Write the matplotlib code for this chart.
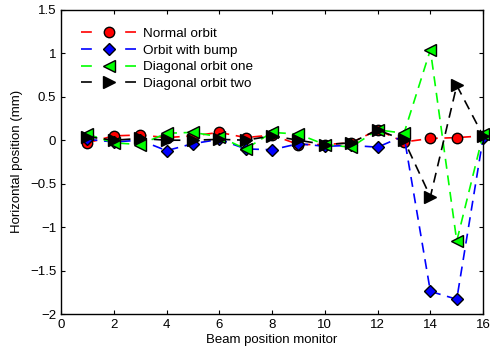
import matplotlib
matplotlib.use("Agg")
import matplotlib.pyplot as plt
from matplotlib.lines import Line2D
from matplotlib.legend_handler import HandlerTuple

plt.rcParams['font.family'] = ['Liberation Sans', 'DejaVu Sans']

bpm = list(range(1, 17))
normal = [-0.03, 0.05, 0.06, 0.03, 0.05, 0.09, 0.03, 0.06, -0.05, -0.05, -0.03, 0.12, -0.02, 0.02, 0.03, 0.05]
bump = [0.01, -0.02, 0.0, -0.12, -0.04, 0.01, -0.10, -0.11, -0.04, -0.07, -0.06, -0.08, 0.05, -1.74, -1.83, 0.03]
diag_one = [0.07, -0.03, -0.05, 0.08, 0.09, 0.04, -0.10, 0.09, 0.07, -0.05, -0.08, 0.12, 0.08, 1.04, -1.16, 0.07]
diag_two = [0.04, 0.0, 0.02, 0.0, 0.0, 0.01, 0.0, 0.05, 0.0, -0.05, -0.03, 0.12, 0.0, -0.65, 0.63, 0.05]

labels = ['Normal orbit', 'Orbit with bump', 'Diagonal orbit one', 'Diagonal orbit two']
xticks = [0, 2, 4, 6, 8, 10, 12, 14, 16]
yticks = [-2, -1.5, -1, -0.5, 0, 0.5, 1, 1.5]

fig = plt.figure(figsize=(4.9, 3.57), dpi=100)
ax = fig.add_axes([0.1245, 0.1204, 0.8615, 0.852])

styles = [
    (normal, 'r', 'o'),
    (bump, 'b', 'D'),
    (diag_one, '#00ff00', '<'),
    (diag_two, 'k', '>'),
]
ms = [7.5, 6.5, 8.5, 8.5]
handles = []
for (vals, c, m), lab, s in zip(styles, labels, ms):
    ax.plot(bpm, vals, linestyle=(0, (6, 4)), color=c, lw=1.2, marker=m,
            markersize=s, markerfacecolor=c, markeredgecolor='k',
            markeredgewidth=1.0, clip_on=False)
    hl = Line2D([], [], color=c, lw=1.2, linestyle=(0, (6.5, 20)))
    hm = Line2D([], [], color=c, lw=0, marker=m, markersize=s,
                markerfacecolor=c, markeredgecolor='k', markeredgewidth=1.0)
    handles.append((hl, hm))

ax.set_xlim(0, 16)
ax.set_ylim(-2, 1.5)
ax.set_xticks(xticks)
ax.set_yticks(yticks)
ax.set_yticklabels(['\u22122', '\u22121.5', '\u22121', '\u22120.5', '0', '0.5', '1', '1.5'])
ax.tick_params(direction='in', top=True, right=True, labelsize=9.5, length=3)
ax.set_xlabel('Beam position monitor', fontsize=9.5, labelpad=2)
ax.set_ylabel('Horizontal position (mm)', fontsize=9.5, labelpad=5)
for sp in ax.spines.values():
    sp.set_linewidth(1.0)

ax.legend(handles, labels, handler_map={tuple: HandlerTuple(ndivide=1)},
          loc='upper left', frameon=False, fontsize=9.7, handlelength=4.1,
          borderaxespad=0.0, labelspacing=0.32, handletextpad=0.5,
          bbox_to_anchor=(0.035, 0.96))

fig.savefig('out.png', dpi=100)
